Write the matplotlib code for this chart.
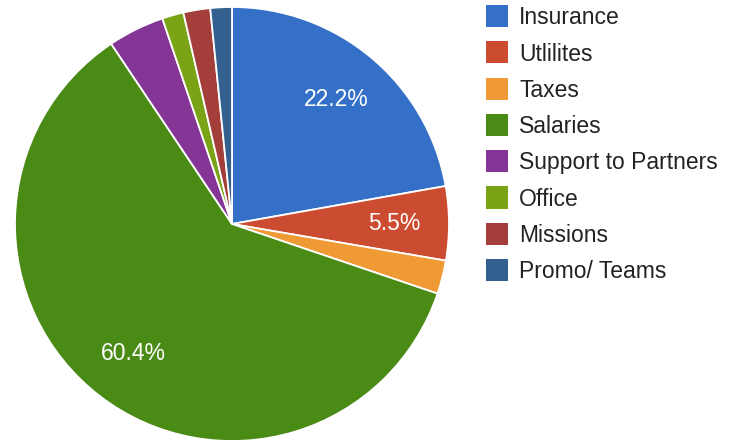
import matplotlib
matplotlib.use("Agg")
import matplotlib.pyplot as plt
from matplotlib.patches import Rectangle

plt.rcParams['font.family'] = ['Liberation Sans', 'DejaVu Sans']

# data (percent of total)
categories = ['Insurance', 'Utlilites', 'Taxes', 'Salaries', 'Support to Partners',
              'Office', 'Missions', 'Promo/ Teams']
shares = [22.2, 5.5, 2.5, 60.4, 4.2, 1.6, 2.0, 1.6]
colors = ['#3570c8', '#cc4c31', '#f09a36', '#4a8b16', '#843595',
          '#7aa315', '#a33e3a', '#33608e']

W, H = 732, 442
fig = plt.figure(figsize=(W / 100, H / 100), dpi=100)

# pie: centre (232, 224) px, radius 217 px
cx, cy, r = 232, 224, 217
ax = fig.add_axes([(cx - r) / W, (H - cy - r) / H, 2 * r / W, 2 * r / H])


def pct_label(p):
    # only slices of 5% or more get a label
    return '%.1f%%' % p if p >= 5 else ''


wedges, texts, autotexts = ax.pie(
    shares, colors=colors, startangle=90, counterclock=False,
    autopct=pct_label, pctdistance=0.75,
    wedgeprops=dict(edgecolor='white', linewidth=1.3),
    textprops=dict(color='white', fontsize=16.5))
ax.set_xlim(-1.0, 1.0)
ax.set_ylim(-1.0, 1.0)
ax.set_aspect('equal')
ax.axis('off')

# legend, drawn by hand to match spacing
sq = 22
x0, y0, pitch = 486, 16, 36.3
fs = 16.5
cap = 0.716 * fs * 100 / 72
for i, (lab, col) in enumerate(zip(categories, colors)):
    yc = y0 + i * pitch
    fig.add_artist(Rectangle((x0 / W, (H - yc - sq / 2) / H), sq / W, sq / H,
                             transform=fig.transFigure, facecolor=col,
                             edgecolor='none'))
    fig.text(519 / W, (H - yc - cap / 2) / H, lab, fontsize=fs,
             color='#222222', va='baseline', ha='left')

fig.savefig('out.png', dpi=100)
